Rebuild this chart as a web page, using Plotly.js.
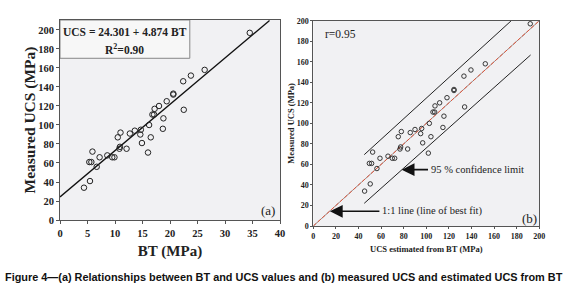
<!DOCTYPE html>
<html>
<head>
<meta charset="utf-8">
<script src="https://cdn.plot.ly/plotly-3.0.1.min.js"></script>
<style>html,body{margin:0;padding:0;background:#fff;}#chart{width:575px;height:295px;}</style>
</head>
<body>
<div id="chart"></div>
<script>
// Panel (a): BT vs measured UCS
const bt  = [4.36,5.45,5.33,5.7,5.9,6.67,7.2,8.6,9.5,9.9,10.5,10.8,10.9,11.0,12.1,12.7,13.6,14.6,14.7,14.9,16.0,16.2,16.5,16.8,17.1,17.2,18.0,18.7,18.8,19.4,20.6,20.6,22.4,22.5,23.8,26.3,34.5];
const ucs = [34,41,61,61,72,56,66,68,66,66,87,75,77,92,75,91,94,90,95,81,71,100,87,111,111,117,120,96,107,125,132,133,146,116,152,158,197];
// Panel (b): UCS estimated from BT vs measured UCS
const est = [45.4,50.4,49.6,51.6,52.5,56.3,59.0,66.1,69.9,72.0,75.2,76.7,77.3,77.9,83.5,85.8,90.0,95.0,95.9,96.8,101.8,102.7,104.1,105.9,107.4,107.7,111.8,114.7,115.6,118.3,124.5,124.5,133.3,133.9,139.5,152.2,192.0];
// Regression in (a)
const fitIntercept = 24.301, fitSlope = 4.874;
const fitXRange = [0, 38.1];
// 1:1 line and 95% confidence limits in (b)
const oneToOneX = [0, 200], oneToOneY = [0, 200];
const ciUpperX = [45.1, 174.9], ciUpperY = [69.5, 199.7];
const ciLowerX = [45.1, 192.3], ciLowerY = [22.1, 166.6];
// Arrow annotations in (b): [headX, headY, textLeftX, textY]
const arrowCI = [78.2, 54.9, 101.5, 54.9];
const arrow11 = [14.7, 14.3, 58.5, 14.3];

const serif = 'Liberation Serif, Times New Roman, serif';
const W = 575, H = 295;

const fitY = fitXRange.map(x => fitIntercept + fitSlope * x);

const traces = [
  {x: fitXRange, y: fitY, mode: 'lines', line: {color: '#111', width: 1.3}, xaxis: 'x', yaxis: 'y', hoverinfo: 'skip'},
  {x: bt, y: ucs, mode: 'markers', marker: {symbol: 'circle-open', size: 5.5, color: '#222', line: {width: 1}}, xaxis: 'x', yaxis: 'y'},
  {x: ciUpperX, y: ciUpperY, mode: 'lines', line: {color: '#222', width: 1}, xaxis: 'x2', yaxis: 'y2'},
  {x: ciLowerX, y: ciLowerY, mode: 'lines', line: {color: '#222', width: 1}, xaxis: 'x2', yaxis: 'y2'},
  {x: oneToOneX, y: oneToOneY, mode: 'lines', line: {color: '#555', width: 0.6}, xaxis: 'x2', yaxis: 'y2'},
  {x: oneToOneX, y: oneToOneY, mode: 'lines', line: {color: '#e0553a', width: 1, dash: '4px,2px'}, xaxis: 'x2', yaxis: 'y2'},
  {x: est, y: ucs, mode: 'markers', marker: {symbol: 'circle-open', size: 4.5, color: '#222', line: {width: 0.9}}, xaxis: 'x2', yaxis: 'y2'},
  {x: [], y: [], mode: 'markers', xaxis: 'x', yaxis: 'y3'},
  {x: [], y: [], mode: 'markers', xaxis: 'x2', yaxis: 'y4'}
];

const axisCommon = {
  showline: true, mirror: true, linecolor: '#555', linewidth: 1,
  ticks: 'outside', ticklen: 3, tickcolor: '#555', showgrid: false, zeroline: false
};
const titleAxis = {
  anchor: 'free', side: 'left', showticklabels: false, ticks: '', showline: false,
  showgrid: false, zeroline: false, autoshift: false
};

const layout = {
  width: W, height: H,
  margin: {l: 0, r: 0, t: 0, b: 0},
  paper_bgcolor: '#ffffff', plot_bgcolor: '#f1f1f3',
  showlegend: false,
  xaxis: Object.assign({}, axisCommon, {
    domain: [60/W, 280/W], range: [0, 40], dtick: 5, anchor: 'y',
    tickfont: {family: serif, size: 10.5, color: '#222', weight: 'bold'},
    title: {text: 'BT (MPa)', font: {family: serif, size: 15, color: '#222', weight: 'bold'}, standoff: 7}
  }),
  yaxis: Object.assign({}, axisCommon, {
    domain: [(H-220)/H, (H-20)/H], range: [0, 210.5], dtick: 20, anchor: 'x',
    tickfont: {family: serif, size: 10.5, color: '#222', weight: 'bold'}
  }),
  yaxis3: Object.assign({}, titleAxis, {
    overlaying: 'y', position: 41/W, range: [0, 210.5],
    title: {text: 'Measured UCS (MPa)', font: {family: serif, size: 15.5, color: '#222', weight: 'bold'}, standoff: 0}
  }),
  xaxis2: Object.assign({}, axisCommon, {
    domain: [313.3/W, 539.3/W], range: [0, 200], dtick: 20, anchor: 'y2', ticklen: 2,
    tickfont: {family: serif, size: 8, color: '#222', weight: 'bold'},
    title: {text: 'UCS estimated from BT (MPa)', font: {family: serif, size: 8.5, color: '#222', weight: 'bold'}, standoff: 6}
  }),
  yaxis2: Object.assign({}, axisCommon, {
    domain: [(H-226)/H, (H-20.7)/H], range: [0, 200], dtick: 20, anchor: 'x2', ticklen: 2,
    tickfont: {family: serif, size: 8, color: '#222', weight: 'bold'}
  }),
  yaxis4: Object.assign({}, titleAxis, {
    overlaying: 'y2', position: 297/W, range: [0, 200],
    title: {text: 'Measured UCS (MPa)', font: {family: serif, size: 8.5, color: '#222', weight: 'bold'}, standoff: 0}
  }),
  shapes: [
    {type: 'rect', xref: 'x', yref: 'y', x0: 0, x1: 23.6, y0: 170.2, y1: 210.5,
     fillcolor: '#f7f7f7', line: {color: '#888', width: 1}, layer: 'below'}
  ],
  annotations: [
    {xref: 'x', yref: 'y', x: 11.8, y: 198, text: '<b>UCS = 24.301 + 4.874 BT</b>', showarrow: false,
     font: {family: serif, size: 11.5, color: '#222'}},
    {xref: 'x', yref: 'y', x: 11.8, y: 180.5, text: '<b>R<sup>2</sup>=0.90</b>', showarrow: false,
     font: {family: serif, size: 11.5, color: '#222'}},
    {xref: 'x', yref: 'y', x: 37.8, y: 10, text: '(a)', showarrow: false,
     font: {family: serif, size: 13, color: '#222'}},
    {xref: 'x2', yref: 'y2', x: 8.8, y: 186.7, xanchor: 'left', text: 'r=0.95', showarrow: false,
     font: {family: serif, size: 11.5, color: '#222'}},
    {xref: 'x2', yref: 'y2', x: 191.7, y: 7.5, text: '(b)', showarrow: false,
     font: {family: serif, size: 13, color: '#222'}},
    {xref: 'x2', yref: 'y2', x: arrowCI[0], y: arrowCI[1], ax: arrowCI[2], ay: arrowCI[3], axref: 'x2', ayref: 'y2',
     xanchor: 'left', text: '95 % confidence limit', showarrow: true, arrowhead: 2, arrowsize: 1.6, arrowwidth: 1.6, arrowcolor: '#111',
     borderpad: 2, font: {family: serif, size: 10.5, color: '#222'}},
    {xref: 'x2', yref: 'y2', x: arrow11[0], y: arrow11[1], ax: arrow11[2], ay: arrow11[3], axref: 'x2', ayref: 'y2',
     xanchor: 'left', text: '1:1 line (line of best fit)', showarrow: true, arrowhead: 2, arrowsize: 1.6, arrowwidth: 1.6, arrowcolor: '#111',
     borderpad: 2, font: {family: serif, size: 10.5, color: '#222'}},
    {xref: 'paper', yref: 'paper', x: 3/W, y: (H-277)/H, xanchor: 'left', yanchor: 'middle',
     text: '<b>Figure 4—(a) Relationships between BT and UCS values and (b) measured UCS and estimated UCS from BT</b>',
     showarrow: false, font: {family: 'Liberation Sans, Arial, sans-serif', size: 10.9, color: '#111'}}
  ]
};

Plotly.newPlot('chart', traces, layout, {displayModeBar: false, staticPlot: true});
</script>
</body>
</html>
